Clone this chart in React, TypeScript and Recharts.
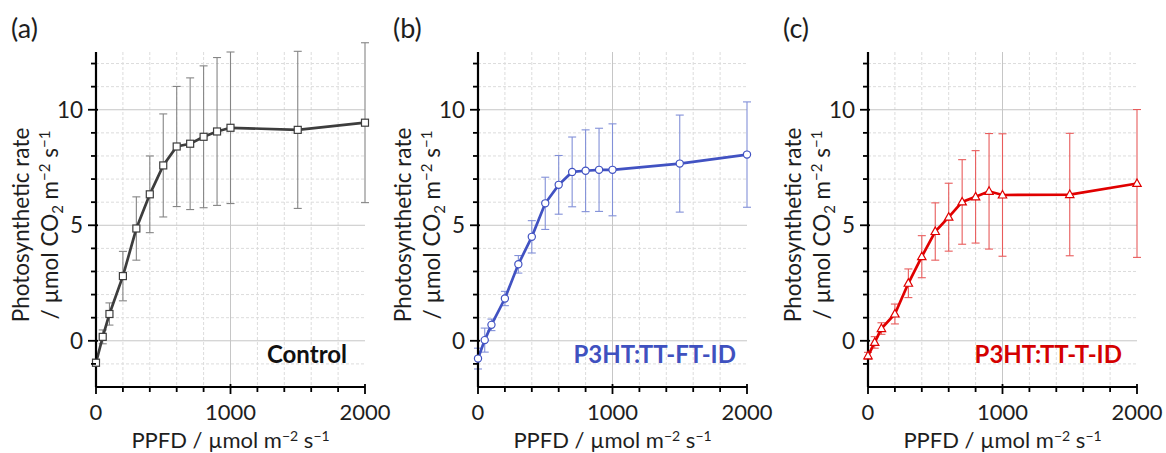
import React from "react"
import {
  LineChart,
  Line,
  XAxis,
  YAxis,
  CartesianGrid,
  ReferenceLine,
} from "recharts"

// PPFD steps of the light-response curve
const ppfd = [0, 50, 100, 200, 300, 400, 500, 600, 700, 800, 900, 1000, 1500, 2000]

// (a) Control
const controlRate = [-0.95, 0.17, 1.16, 2.8, 4.86, 6.34, 7.59, 8.41, 8.53, 8.83, 9.06, 9.22, 9.13, 9.44]
const controlErr = [0.15, 0.3, 0.48, 1.07, 1.37, 1.66, 2.23, 2.6, 2.85, 3.07, 3.2, 3.28, 3.4, 3.46]

// (b) P3HT:TT-FT-ID
const ftRate = [-0.77, 0.03, 0.69, 1.83, 3.31, 4.5, 5.95, 6.75, 7.31, 7.36, 7.4, 7.4, 7.67, 8.06]
const ftErr = [0.45, 0.52, 0.25, 0.31, 0.38, 0.7, 1.13, 1.27, 1.51, 1.77, 1.8, 1.99, 2.1, 2.28]

// (c) P3HT:TT-T-ID
const tRate = [-0.65, -0.07, 0.53, 1.16, 2.49, 3.64, 4.73, 5.35, 6.01, 6.23, 6.47, 6.31, 6.33, 6.81]
const tErr = [0.15, 0.25, 0.25, 0.43, 0.62, 0.91, 1.24, 1.47, 1.83, 2.0, 2.5, 2.65, 2.65, 3.2]

const xTicks = [0, 200, 400, 600, 800, 1000, 1200, 1400, 1600, 1800, 2000]
const xMajor = [0, 1000, 2000]
const xMinorGrid = [200, 400, 600, 800, 1200, 1400, 1600, 1800]
const yTicks = [-1, 0, 1, 2, 3, 4, 5, 6, 7, 8, 9, 10, 11, 12]
const yMajor = [0, 5, 10]
const yMinorGrid = [-1, 1, 2, 3, 4, 6, 7, 8, 9, 11, 12]

const FONT = "Lato, 'Liberation Sans', sans-serif"
const PLOT_W = 269
const AXIS_W = 96
const TEXT = "#1e1e1e"

function YTick({ x, y, payload }: any) {
  const major = yMajor.includes(payload.value)
  return (
    <g>
      <line x1={x - (major ? 8 : 5)} x2={x + (major ? 2 : 0)} y1={y} y2={y} stroke="#000" strokeWidth={1.8} />
      {major && (
        <text x={x - 13} y={y} dy="0.36em" textAnchor="end" fontFamily={FONT} fontSize={22.5} fill={TEXT}>
          {payload.value}
        </text>
      )}
    </g>
  )
}

function XTick({ x, y, payload }: any) {
  const major = xMajor.includes(payload.value)
  return (
    <g>
      <line x1={x} x2={x} y1={y - (major ? 3 : 0)} y2={y + (major ? 7 : 5)} stroke="#000" strokeWidth={1.8} />
      {major && (
        <text x={x} y={y + 33} textAnchor="middle" fontFamily={FONT} fontSize={22} fill={TEXT}>
          {payload.value}
        </text>
      )}
    </g>
  )
}

function Whisker({ x1, y1, x2, y2, color }: any) {
  return (
    <g stroke={color} strokeWidth={1.1}>
      <line x1={x1} x2={x2} y1={y1} y2={y2} />
      <line x1={x1 - 4} x2={x1 + 4} y1={y1} y2={y1} />
      <line x1={x2 - 4} x2={x2 + 4} y1={y2} y2={y2} />
    </g>
  )
}

const squareDot = (color: string) => (p: any) => (
  <rect key={`sq-${p.index}`} x={p.cx - 3.5} y={p.cy - 3.5} width={7} height={7} fill="#fff" stroke={color} strokeWidth={1.2} />
)
const circleDot = (color: string) => (p: any) => (
  <circle key={`ci-${p.index}`} cx={p.cx} cy={p.cy} r={3.6} fill="#fff" stroke={color} strokeWidth={1.2} />
)
const triangleDot = (color: string) => (p: any) => (
  <path
    key={`tr-${p.index}`}
    d={`M${p.cx},${p.cy - 4.5} L${p.cx + 4.2},${p.cy + 3} L${p.cx - 4.2},${p.cy + 3} Z`}
    fill="#fff"
    stroke={color}
    strokeWidth={1.2}
  />
)

const panels = [
  {
    tag: "(a)", name: "Control", left: 96, labelRight: 347,
    rate: controlRate, err: controlErr,
    line: "#3d3d3d", errColor: "#858585", text: "#111", dot: squareDot("#3d3d3d"),
  },
  {
    tag: "(b)", name: "P3HT:TT-FT-ID", left: 478, labelRight: 736,
    rate: ftRate, err: ftErr,
    line: "#4152c2", errColor: "#8290d8", text: "#3f51bf", dot: circleDot("#4152c2"),
  },
  {
    tag: "(c)", name: "P3HT:TT-T-ID", left: 868, labelRight: 1122,
    rate: tRate, err: tErr,
    line: "#e00000", errColor: "#e85c5c", text: "#d40000", dot: triangleDot("#e00000"),
  },
]

function Panel({ p }: { p: (typeof panels)[number] }) {
  const data = ppfd.map((x, i) => ({ x, y: p.rate[i] }))
  return (
    <div style={{ position: "absolute", left: p.left - AXIS_W, top: 0 }}>
      <LineChart width={AXIS_W + PLOT_W + 30} height={453} data={data} margin={{ top: 52, right: 30, bottom: 0, left: 0 }}>
        <CartesianGrid
          stroke="#dcdcdc"
          strokeDasharray="3 2"
          horizontalValues={yMinorGrid}
          verticalValues={xMinorGrid}
        />
        <CartesianGrid stroke="#c6c6c6" horizontalValues={yMajor} verticalValues={[1000]} />
        <XAxis
          dataKey="x"
          type="number"
          domain={[0, 2000]}
          ticks={xTicks}
          interval={0}
          height={66}
          tickSize={0}
          tickMargin={0}
          tickLine={false}
          tick={<XTick />}
          axisLine={{ stroke: "#000", strokeWidth: 2.2 }}
        />
        <YAxis
          type="number"
          domain={[-2, 12.5]}
          ticks={yTicks}
          interval={0}
          width={AXIS_W}
          tickSize={0}
          tickMargin={0}
          tickLine={false}
          tick={<YTick />}
          axisLine={{ stroke: "#000", strokeWidth: 2.2 }}
        />
        {ppfd.map((x, i) => (
          <ReferenceLine
            key={`err-${i}`}
            segment={[
              { x, y: p.rate[i] - p.err[i] },
              { x, y: p.rate[i] + p.err[i] },
            ]}
            ifOverflow="visible"
            shape={(sp: any) => <Whisker {...sp} color={p.errColor} />}
          />
        ))}
        <Line
          type="linear"
          dataKey="y"
          stroke={p.line}
          strokeWidth={2.7}
          dot={p.dot}
          activeDot={false}
          isAnimationActive={false}
        />
      </LineChart>
    </div>
  )
}

function Labels() {
  return (
    <svg width={1166} height={453} style={{ position: "absolute", left: 0, top: 0, pointerEvents: "none" }}>
      {panels.map((p) => {
        const cx = p.left + PLOT_W / 2
        return (
          <g key={p.tag} fontFamily={FONT} fill={TEXT}>
            <text x={p.left - 85} y={38} fontSize={27}>{p.tag}</text>
            <text x={p.labelRight} y={363} textAnchor="end" fontSize={24} fontWeight="bold" fill={p.text}>
              {p.name}
            </text>
            <g transform={`translate(${p.left - 67},225) rotate(-90)`}>
              <text x={0} y={0} textAnchor="middle" fontSize={22.5}>Photosynthetic rate</text>
            </g>
            <g transform={`translate(${p.left - 38},225) rotate(-90)`}>
              <text x={0} y={0} textAnchor="middle" fontSize={22.5}>
                / µmol CO<tspan dy={5} fontSize={15}>2</tspan>
                <tspan dy={-5}> m</tspan>
                <tspan dy={-8} fontSize={15}>−2</tspan>
                <tspan dy={8}> s</tspan>
                <tspan dy={-8} fontSize={15}>−1</tspan>
              </text>
            </g>
            <text x={cx} y={448} textAnchor="middle" fontSize={22}>
              PPFD / µmol m<tspan dy={-7} fontSize={14}>−2</tspan>
              <tspan dy={7}> s</tspan>
              <tspan dy={-7} fontSize={14}>−1</tspan>
            </text>
          </g>
        )
      })}
    </svg>
  )
}

export default function App() {
  return (
    <div style={{ position: "absolute", left: 0, top: 0, width: 1166, height: 453, background: "#fff", fontFamily: FONT }}>
      {panels.map((p) => (
        <Panel key={p.tag} p={p} />
      ))}
      <Labels />
    </div>
  )
}
